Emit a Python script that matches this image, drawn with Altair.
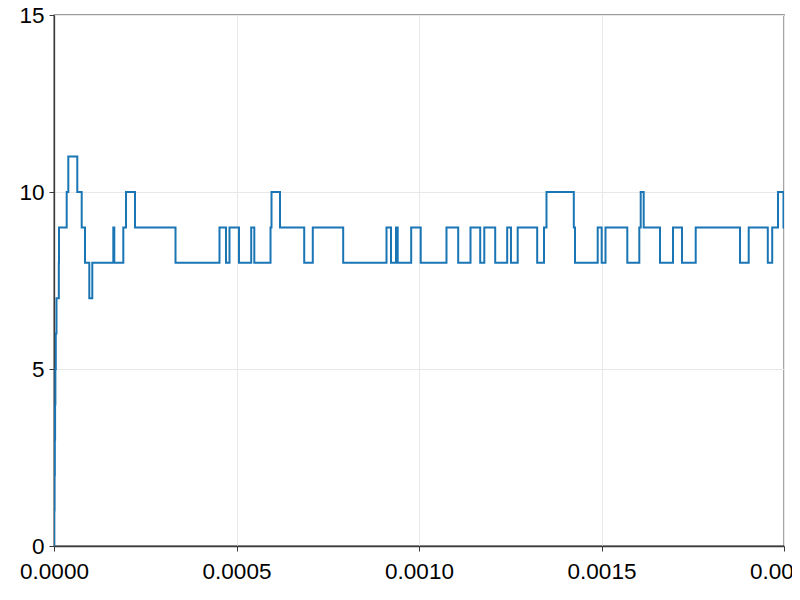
import altair as alt
import pandas as pd

# step transitions: time (s) at which the count changes, and the new count
times = [0.0, 0.0000005, 0.0000014, 0.0000022, 0.0000030, 0.0000038, 0.0000049, 0.0000068,
         0.0000132, 0.0000137, 0.0000348, 0.0000392, 0.0000638, 0.0000759, 0.0000849,
         0.0000967, 0.0001049, 0.0001625, 0.0001652, 0.0001899, 0.0001973, 0.0002219,
         0.0003329, 0.0004534, 0.0004712, 0.0004808, 0.0005068, 0.0005403, 0.0005488,
         0.0005932, 0.0005959, 0.0006192, 0.0006855, 0.0007090, 0.0007923, 0.0009110,
         0.0009233, 0.0009370, 0.0009416, 0.0009786, 0.0010047, 0.0010753, 0.0011074,
         0.0011411, 0.0011677, 0.0011789, 0.0012088, 0.0012416, 0.0012520, 0.0012704,
         0.0013238, 0.0013425, 0.0013493, 0.0014241, 0.0014274, 0.0014896, 0.0015005,
         0.0015110, 0.0015707, 0.0016036, 0.0016074, 0.0016156, 0.0016603, 0.0016959,
         0.0017205, 0.0017581, 0.0018795, 0.0019033, 0.0019556, 0.0019677, 0.0019836,
         0.0019986, 0.0020000]
counts = [0, 1, 2, 3, 4, 5, 6, 7,
          8, 9, 10, 11, 10, 9, 8,
          7, 8, 9, 8, 9, 10, 9,
          8, 9, 8, 9, 8, 9, 8,
          9, 10, 9, 8, 9, 8, 9,
          8, 9, 8, 9, 8, 9, 8,
          9, 8, 9, 8, 9, 8, 9,
          8, 9, 10, 9, 8, 9, 8,
          9, 8, 9, 10, 9, 8, 9,
          8, 9, 8, 9, 8, 9, 10,
          9, 9]

x_ticks = [0.0, 0.0005, 0.001, 0.0015, 0.002]
y_ticks = [0, 5, 10, 15]

df = pd.DataFrame({"t": times, "n": counts})

FONT = "Liberation Sans"
FRAME = "#3a3a3a"

chart = alt.Chart(df).mark_line(
    interpolate="step-after", color="#1a75b5", strokeWidth=2, clip=True
).encode(
    x=alt.X("t:Q", scale=alt.Scale(domain=[0, 0.002], nice=False, zero=False),
            axis=alt.Axis(values=x_ticks, format=".4f", title=None, labelFontSize=22.5,
                          labelPadding=9, labelFlush=False, labelOverlap=False)),
    y=alt.Y("n:Q", scale=alt.Scale(domain=[0, 15], nice=False),
            axis=alt.Axis(values=y_ticks, title=None, labelFontSize=22.5, labelPadding=5)),
).properties(
    width=730, height=531,
    autosize=alt.AutoSizeParams(type="none"),
    padding={"left": 46, "top": 7, "right": 8, "bottom": 46},
).configure_axis(
    labelFont=FONT, labelColor="#000000",
    domainColor=FRAME, domainWidth=1.3,
    tickColor=FRAME, tickSize=5, tickWidth=1,
    gridColor="#e8e8e8", gridWidth=1,
).configure_view(
    stroke=FRAME, strokeWidth=1.3,
)

chart.save("out.html", embed_options={"renderer": "svg", "actions": False})
